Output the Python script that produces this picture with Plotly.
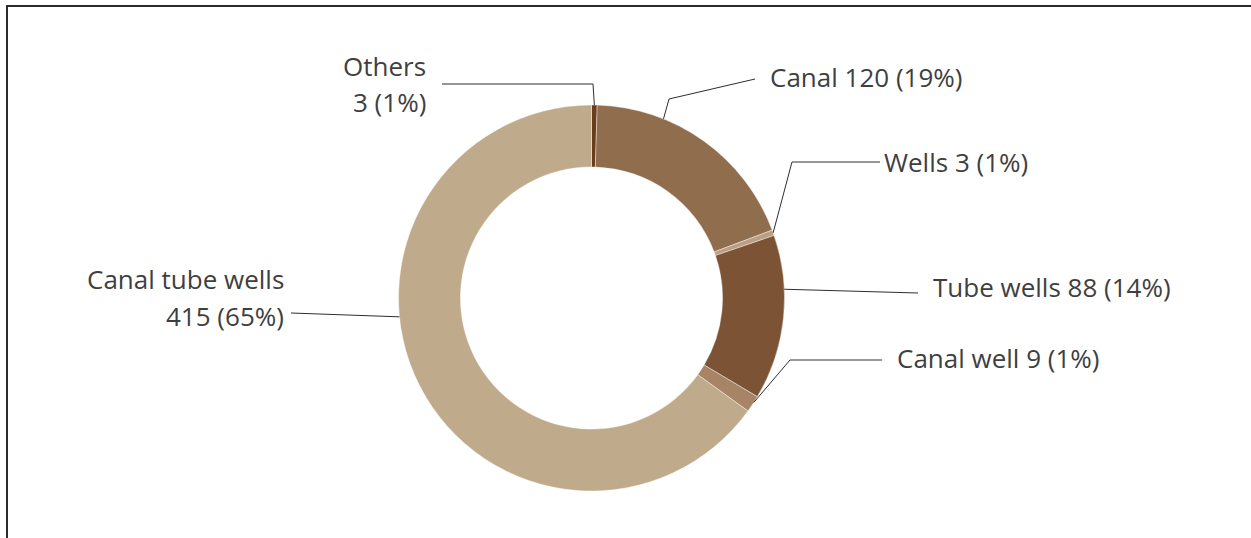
import math
import plotly.graph_objects as go

# Irrigation source shares
sources = ["Others", "Canal", "Wells", "Tube wells", "Canal well", "Canal tube wells"]
counts = [3, 120, 3, 88, 9, 415]
percent_labels = ["1%", "19%", "1%", "14%", "1%", "65%"]
colors = ["#6A3C1C", "#8F6D4D", "#BB9F85", "#7C5334", "#A78466", "#BFAB8B"]

W, H = 1251, 538
CX, CY, R_OUT = 591.5, 298.0, 193.0
HOLE = 0.679

FONT = "Open Sans"
FSIZE = 26
TEXT_COLOR = "#3f3f3f"
LINE_COLOR = "#2e2e2e"


def px(x, y):
    """Pixel position -> paper coordinates."""
    return x / W, 1 - y / H


# Callout layout per slice: preferred anchor angle (deg clockwise from 12 o'clock),
# leader waypoints and the text lines with their placement.
callouts = {
    "Others": dict(pref=2.7, path=[(593, 84), (442, 84)],
                   text=[("Others", 428, 66, "right"), ("3 (1%)", 428, 102, "right")]),
    "Canal": dict(pref=21.9, path=[(669, 99), (755, 79)],
                  text=[("Canal 120 (19%)", 768, 77, "left")]),
    "Wells": dict(pref=51.7, path=[(792, 162), (880, 162)],
                  text=[("Wells 3 (1%)", 882, 162, "left")]),
    "Tube wells": dict(pref=87.4, path=[(918, 293)],
                       text=[("Tube wells 88 (14%)", 931, 287, "left")]),
    "Canal well": dict(pref=107.6, path=[(790, 360), (882, 360)],
                       text=[("Canal well 9 (1%)", 895, 358, "left")]),
    "Canal tube wells": dict(pref=264.4, path=[(291, 313)],
                             text=[("Canal tube wells", 286, 279, "right"),
                                   ("415 (65%)", 286, 316, "right")]),
}

total = sum(counts)
d0 = px(CX - R_OUT, CY + R_OUT)
d1 = px(CX + R_OUT, CY - R_OUT)

fig = go.Figure(go.Pie(
    labels=sources,
    values=counts,
    hole=HOLE,
    sort=False,
    direction="clockwise",
    rotation=0,
    textinfo="none",
    hoverinfo="label+value+percent",
    marker=dict(colors=colors, line=dict(color="white", width=0.4)),
    domain=dict(x=[d0[0], d1[0]], y=[d0[1], d1[1]]),
    showlegend=False,
))

shapes = []
annotations = []
start = 0.0
for name, val in zip(sources, counts):
    span = val / total * 360.0
    end = start + span
    pad = min(2.0, span / 2)
    c = callouts[name]
    ang = min(max(c["pref"], start + pad), end - pad)
    rad = math.radians(ang)
    ax = CX + R_OUT * math.sin(rad)
    ay = CY - R_OUT * math.cos(rad)
    pts = [(ax, ay)] + c["path"]
    for (x0, y0), (x1, y1) in zip(pts[:-1], pts[1:]):
        p0, p1 = px(x0, y0), px(x1, y1)
        shapes.append(dict(type="line", xref="paper", yref="paper",
                           x0=p0[0], y0=p0[1], x1=p1[0], y1=p1[1],
                           line=dict(color=LINE_COLOR, width=1)))
    for txt, tx, ty, side in c["text"]:
        p = px(tx, ty)
        annotations.append(dict(text=txt, x=p[0], y=p[1], xref="paper", yref="paper",
                                xanchor=side, yanchor="middle", showarrow=False,
                                font=dict(family=FONT, size=FSIZE, color=TEXT_COLOR)))
    start = end

# Frame around the chart area
f0 = px(7, 6)
shapes.append(dict(type="rect", xref="paper", yref="paper",
                   x0=f0[0], y0=-0.05, x1=1.05, y1=f0[1],
                   line=dict(color="#2b2b2b", width=2), fillcolor="rgba(0,0,0,0)"))

fig.update_layout(
    width=W, height=H,
    margin=dict(l=0, r=0, t=0, b=0),
    paper_bgcolor="white",
    plot_bgcolor="white",
    shapes=shapes,
    annotations=annotations,
)

fig.write_html("out.html", config={"displayModeBar": False})
